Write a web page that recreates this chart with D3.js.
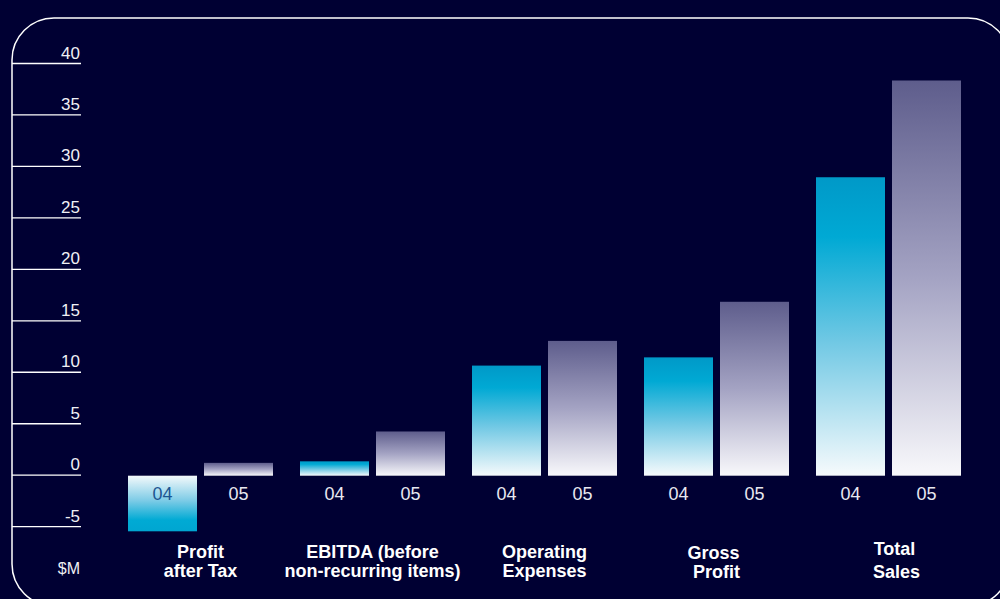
<!DOCTYPE html>
<html><head><meta charset="utf-8">
<script src="https://cdn.jsdelivr.net/npm/d3@7"></script>
<style>html,body{margin:0;padding:0;background:#000033;overflow:hidden}</style>
</head><body>
<svg id="c" width="1000" height="599"></svg>
<script>
const categories = ["Profit after Tax","EBITDA (before non-recurring items)","Operating Expenses","Gross Profit","Total Sales"];
const labelLines = [["Profit","after Tax"],["EBITDA (before","non-recurring items)"],["Operating","Expenses"],["Gross","Profit"],["Total","Sales"]];
const years = ["04","05"];
const values04 = [-5.5, 1.3, 10.6, 11.4, 28.9];
const values05 = [1.15, 4.2, 13.0, 16.8, 38.3];
const tickValues = [-5,0,5,10,15,20,25,30,35,40];
const unitLabel = "$M";

const svg = d3.select("#c");
const W = 1000, H = 599;
svg.append("rect").attr("width",W).attr("height",H).attr("fill","#000033");

const defs = svg.append("defs");
function grad(id, stops){
  const g = defs.append("linearGradient").attr("id",id).attr("x1",0).attr("y1",0).attr("x2",0).attr("y2",1);
  stops.forEach(s=>g.append("stop").attr("offset",s[0]).attr("stop-color",s[1]));
}
grad("g04",[[0,"#0099c8"],[0.2,"#00a9d4"],[0.55,"#70c8e4"],[1,"#f6fafc"]]);
grad("g04neg",[[0,"#f4f9fb"],[0.45,"#7ccbe6"],[0.8,"#00aad4"],[1,"#00a6d1"]]);
grad("g05",[[0,"#5e5d8c"],[0.5,"#a4a3c3"],[1,"#f8f8fb"]]);

// frame
svg.append("rect").attr("x",12).attr("y",18).attr("width",998).attr("height",588).attr("rx",42)
  .attr("fill","none").attr("stroke","#ffffff").attr("stroke-width",1.5);

const y = d3.scaleLinear().domain([0,40]).range([474.7,63]);
const x0 = d3.scaleBand().domain(categories).range([114.5,974.5]).paddingInner(27/172).paddingOuter(27/344);
const x1 = d3.scaleBand().domain(years).range([0,x0.bandwidth()]).paddingInner(7/76);

const FONT = "'Liberation Sans',Arial,Helvetica,sans-serif";

// axis
const axis = d3.axisRight(y).tickValues(tickValues).tickSize(69).tickFormat(d=>String(d));
const ag = svg.append("g").attr("transform","translate(12,0)").call(axis);
ag.select(".domain").remove();
ag.selectAll(".tick line").attr("stroke","#ffffff").attr("stroke-width",1.3);
ag.selectAll(".tick text").attr("x",68).attr("dy",-5).attr("text-anchor","end")
  .attr("fill","#f0f0f5").style("font-family",FONT).style("font-size","17px").attr("y",0);
svg.append("text").attr("x",80).attr("y",574).attr("text-anchor","end").attr("fill","#f0f0f5")
  .style("font-family",FONT).style("font-size","16px").text(unitLabel);

// bars
const rows = categories.map((c,i)=>({cat:c, vals:[{yr:"04",v:values04[i]},{yr:"05",v:values05[i]}]}));
const groups = svg.selectAll("g.grp").data(rows).join("g").attr("class","grp")
  .attr("transform",d=>`translate(${x0(d.cat)},0)`);
groups.selectAll("rect").data(d=>d.vals).join("rect")
  .attr("x",d=>x1(d.yr)).attr("width",x1.bandwidth())
  .attr("y",d=>d.v>=0? y(d.v): y(0)+1)
  .attr("height",d=>d.v>=0? (y(0)+1 - y(d.v)) : (y(d.v)-y(0)-1))
  .attr("fill",d=> d.yr==="05" ? "url(#g05)" : (d.v<0 ? "url(#g04neg)" : "url(#g04)"));
groups.selectAll("text.yr").data(d=>d.vals).join("text").attr("class","yr")
  .attr("x",d=>x1(d.yr)+x1.bandwidth()/2).attr("y",500).attr("text-anchor","middle")
  .attr("fill",d=>d.v<0 ? "#1d5591" : "#e8e8f0")
  .style("font-family",FONT).style("font-size","18px")
  .text(d=>d.yr);

// category labels
const lineY = [[558,577],[558,577],[558,577],[559,578],[555,578]];
const lineDx = [[0,0],[0,0],[0,0],[-3,0],[6,8]];
groups.each(function(d,i){
  const g = d3.select(this);
  labelLines[i].forEach((t,j)=>{
    g.append("text").attr("x",x0.bandwidth()/2 + lineDx[i][j]).attr("y",lineY[i][j])
      .attr("text-anchor","middle").attr("fill","#ffffff")
      .style("font-family",FONT).style("font-size","18px").style("font-weight","bold")
      .text(t);
  });
});
</script>
</body></html>
